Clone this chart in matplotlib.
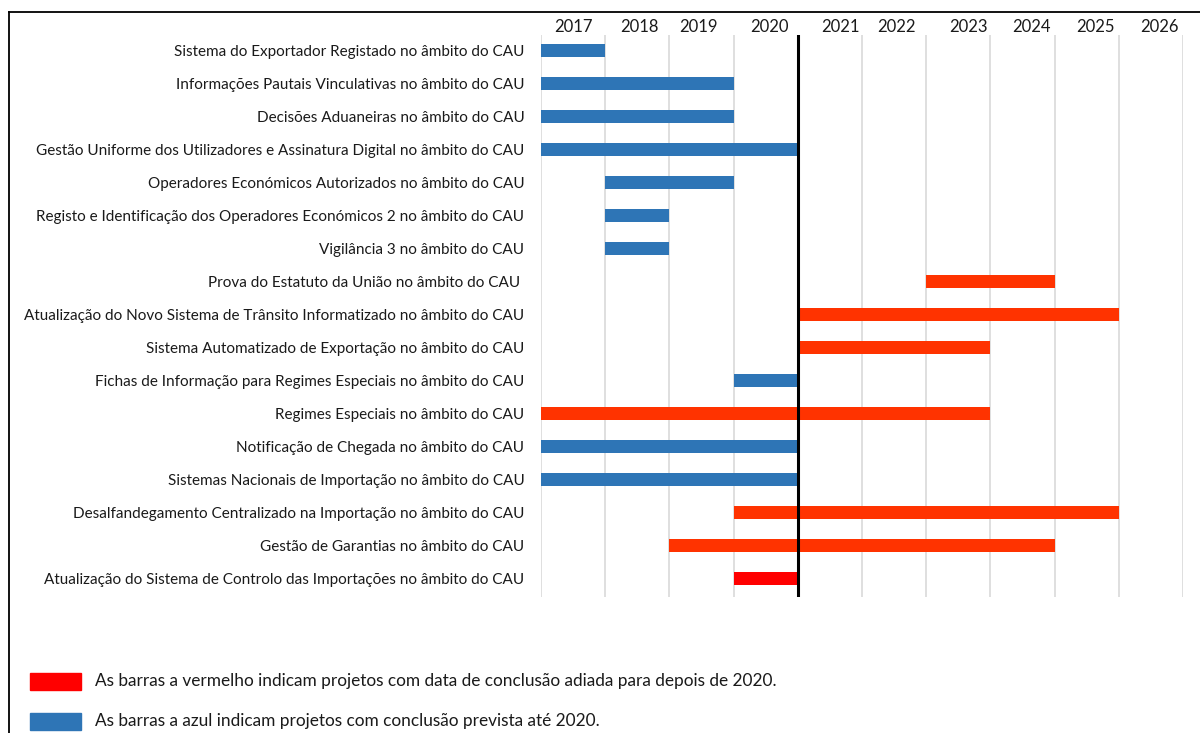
import matplotlib
matplotlib.use("Agg")
import matplotlib.pyplot as plt
from matplotlib.patches import Rectangle
from matplotlib.transforms import offset_copy

plt.rcParams['font.family'] = ['Lato', 'DejaVu Sans']

projects = [
    "Sistema do Exportador Registado no âmbito do CAU",
    "Informações Pautais Vinculativas no âmbito do CAU",
    "Decisões Aduaneiras no âmbito do CAU",
    "Gestão Uniforme dos Utilizadores e Assinatura Digital no âmbito do CAU",
    "Operadores Económicos Autorizados no âmbito do CAU",
    "Registo e Identificação dos Operadores Económicos 2 no âmbito do CAU",
    "Vigilância 3 no âmbito do CAU",
    "Prova do Estatuto da União no âmbito do CAU ",
    "Atualização do Novo Sistema de Trânsito Informatizado no âmbito do CAU",
    "Sistema Automatizado de Exportação no âmbito do CAU",
    "Fichas de Informação para Regimes Especiais no âmbito do CAU",
    "Regimes Especiais no âmbito do CAU",
    "Notificação de Chegada no âmbito do CAU",
    "Sistemas Nacionais de Importação no âmbito do CAU",
    "Desalfandegamento Centralizado na Importação no âmbito do CAU",
    "Gestão de Garantias no âmbito do CAU",
    "Atualização do Sistema de Controlo das Importações no âmbito do CAU",
]
start_year = [2017, 2017, 2017, 2017, 2018, 2018, 2018, 2023, 2021, 2021,
              2020, 2017, 2017, 2017, 2020, 2019, 2020]
end_year = [2018, 2020, 2020, 2021, 2020, 2019, 2019, 2025, 2026, 2024,
            2021, 2024, 2021, 2021, 2026, 2025, 2021]
status = ["blue", "blue", "blue", "blue", "blue", "blue", "blue", "red", "red", "red",
          "blue", "red", "blue", "blue", "red", "red", "brightred"]
years = [2017, 2018, 2019, 2020, 2021, 2022, 2023, 2024, 2025, 2026]
cutoff_year = 2021
legend_texts = [
    "As barras a vermelho indicam projetos com data de conclusão adiada para depois de 2020.",
    "As barras a azul indicam projetos com conclusão prevista até 2020.",
]

colors = {"blue": "#2E75B6", "red": "#FF3300", "brightred": "#FF0000"}
# small horizontal nudges (points) of the year headers, as in the original layout
year_label_nudge = [0, 1.5, -2, 3, 7.5, 2, 7.5, 6.5, 6, 6]

W, H = 1200, 733
fig = plt.figure(figsize=(W / 100, H / 100), dpi=100)

def fx(px):
    return px / W

def fy(py):
    return 1 - py / H

ax = fig.add_axes([fx(541), fy(597), fx(1183) - fx(541), fy(35) - fy(597)])
n = len(projects)
for i in range(n):
    ax.barh(i, end_year[i] - start_year[i], left=start_year[i], height=0.4,
            color=colors[status[i]], zorder=3)

ax.set_xlim(years[0], years[-1] + 1)
ax.set_ylim(n - 0.45, -0.48)
for y in years + [years[-1] + 1]:
    ax.axvline(y, color="#D9D9D9", lw=1.2, zorder=1)
ax.axvline(cutoff_year, color="black", lw=2.2, zorder=4, ymin=0, ymax=1.0 + 2 / 562)

ax.set_yticks(range(n))
ax.set_yticklabels(projects, fontsize=11, color="#1a1a1a")
ax.tick_params(axis="y", length=0, pad=12)
ax.set_xticks([])
for s in ax.spines.values():
    s.set_visible(False)

for y, dx in zip(years, year_label_nudge):
    tr = offset_copy(ax.transData, fig=fig, x=dx, y=2, units="points")
    ax.text(y + 0.5, -0.48, str(y), ha="center", va="baseline", fontsize=12,
            color="#1a1a1a", transform=tr)

# outer frame
fig.add_artist(plt.Line2D([fx(9), 1], [fy(12), fy(12)], color="black", lw=1.3,
                          transform=fig.transFigure))
fig.add_artist(plt.Line2D([fx(9), fx(9)], [fy(12), 0], color="black", lw=1.3,
                          transform=fig.transFigure))

# legend
leg_colors = [colors["brightred"], colors["blue"]]
leg_y = [681, 721]
for c, t, yy in zip(leg_colors, legend_texts, leg_y):
    fig.add_artist(Rectangle((fx(30), fy(yy + 8.5)), fx(51), 17 / H, color=c,
                             transform=fig.transFigure))
    fig.text(fx(95), fy(yy), t, ha="left", va="center", fontsize=12.4, color="#1a1a1a")

fig.savefig("out.png", dpi=100)
